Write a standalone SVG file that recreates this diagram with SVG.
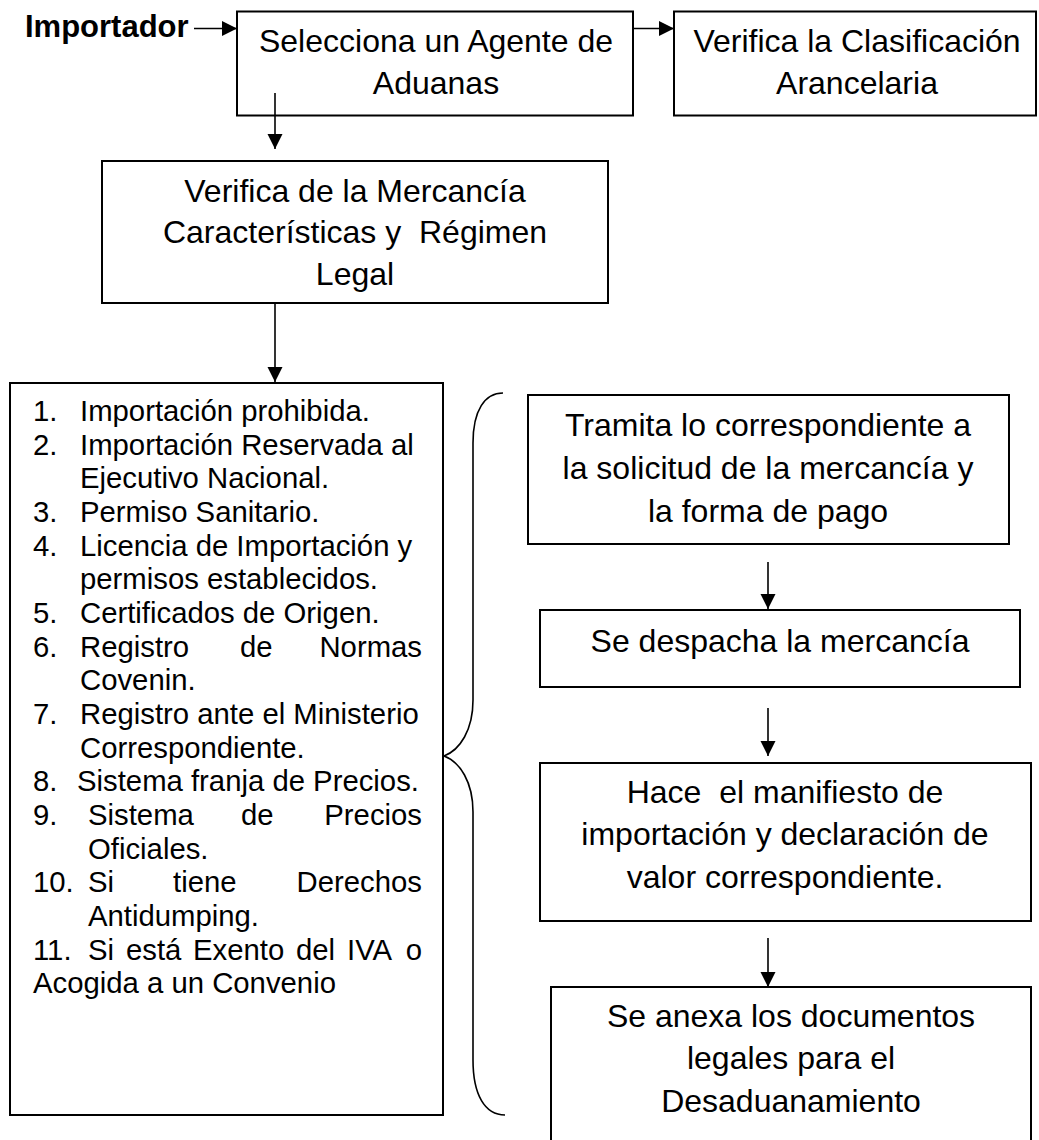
<svg xmlns="http://www.w3.org/2000/svg" width="1039" height="1140" viewBox="0 0 1039 1140">
<style>
.box{fill:#fff;stroke:#000;stroke-width:2}
.t{font-family:"Liberation Sans",Arial,sans-serif;font-size:32px;fill:#000;text-anchor:middle}
.l{font-family:"Liberation Sans",Arial,sans-serif;font-size:29.3px;fill:#000}
.e{text-anchor:end}
.c{fill:none;stroke:#000;stroke-width:1.6}
</style>
<defs>
<marker id="ah" markerUnits="userSpaceOnUse" markerWidth="16" markerHeight="16" refX="15" refY="7.5" orient="auto">
<path d="M0,0 L15,7.5 L0,15 z" fill="#000"/>
</marker>
</defs>
<rect width="1039" height="1140" fill="#fff"/>

<g id="importador">
<text x="25" y="37" style="font-family:'Liberation Sans',Arial,sans-serif;font-size:31px;font-weight:bold">Importador</text>
</g>

<g id="n1">
<rect class="box" x="237" y="11.5" width="396" height="104"/>
<text class="t" x="436" y="52">Selecciona un Agente de</text>
<text class="t" x="436" y="94">Aduanas</text>
</g>

<g id="n2">
<rect class="box" x="674" y="11.5" width="362" height="104"/>
<text class="t" x="857" y="52">Verifica la Clasificación</text>
<text class="t" x="857" y="94">Arancelaria</text>
</g>

<g id="n3">
<rect class="box" x="102" y="161" width="506" height="142"/>
<text class="t" x="355" y="202">Verifica de la Mercancía</text>
<text class="t" x="355" y="243" xml:space="preserve">Características y  Régimen</text>
<text class="t" x="355" y="285">Legal</text>
</g>

<g id="n4">
<rect class="box" x="10" y="383" width="433" height="732"/>
<text class="l" y="421"><tspan x="33">1.</tspan><tspan x="80">Importación prohibida.</tspan></text>
<text class="l" y="455"><tspan x="33">2.</tspan><tspan x="80">Importación Reservada al</tspan></text>
<text class="l" y="488"><tspan x="80">Ejecutivo Nacional.</tspan></text>
<text class="l" y="522"><tspan x="33">3.</tspan><tspan x="80">Permiso Sanitario.</tspan></text>
<text class="l" y="556"><tspan x="33">4.</tspan><tspan x="80">Licencia de Importación y</tspan></text>
<text class="l" y="589"><tspan x="80">permisos establecidos.</tspan></text>
<text class="l" y="623"><tspan x="33">5.</tspan><tspan x="80">Certificados de Origen.</tspan></text>
<text class="l" y="657"><tspan x="33">6.</tspan><tspan x="80">Registro</tspan><tspan x="240">de</tspan></text>
<text class="l e" x="422" y="657">Normas</text>
<text class="l" y="690"><tspan x="80">Covenin.</tspan></text>
<text class="l" y="724"><tspan x="33">7.</tspan><tspan x="80">Registro ante el Ministerio</tspan></text>
<text class="l" y="758"><tspan x="80">Correspondiente.</tspan></text>
<text class="l" y="791"><tspan x="33">8.</tspan><tspan x="77">Sistema franja de Precios.</tspan></text>
<text class="l" y="825"><tspan x="33">9.</tspan><tspan x="88">Sistema</tspan><tspan x="241">de</tspan></text>
<text class="l e" x="422" y="825">Precios</text>
<text class="l" y="859"><tspan x="88">Oficiales.</tspan></text>
<text class="l" y="892"><tspan x="33">10.</tspan><tspan x="88">Si</tspan><tspan x="173">tiene</tspan></text>
<text class="l e" x="422" y="892">Derechos</text>
<text class="l" y="926"><tspan x="88">Antidumping.</tspan></text>
<text class="l" y="960"><tspan x="33">11.</tspan><tspan x="88">Si</tspan><tspan x="126">está</tspan><tspan x="193">Exento</tspan><tspan x="296">del</tspan><tspan x="347">IVA</tspan></text>
<text class="l e" x="422" y="960">o</text>
<text class="l" y="993"><tspan x="33">Acogida a un Convenio</tspan></text>
</g>

<g id="n5">
<rect class="box" x="528" y="395" width="481" height="149"/>
<text class="t" x="768" y="436">Tramita lo correspondiente a</text>
<text class="t" x="768" y="479">la solicitud de la mercancía y</text>
<text class="t" x="768" y="522">la forma de pago</text>
</g>

<g id="n6">
<rect class="box" x="540" y="610" width="480" height="77"/>
<text class="t" x="780" y="652">Se despacha la mercancía</text>
</g>

<g id="n7">
<rect class="box" x="540" y="763" width="491" height="158"/>
<text class="t" x="785" y="803" xml:space="preserve">Hace  el manifiesto de</text>
<text class="t" x="785" y="845">importación y declaración de</text>
<text class="t" x="785" y="888">valor correspondiente.</text>
</g>

<g id="n8">
<rect class="box" x="551" y="987" width="480" height="170"/>
<text class="t" x="791" y="1027">Se anexa los documentos</text>
<text class="t" x="791" y="1069">legales para el</text>
<text class="t" x="791" y="1112">Desaduanamiento</text>
</g>

<g id="connectors">
<line class="c" x1="194" y1="28.5" x2="237" y2="28.5" marker-end="url(#ah)"/>
<line class="c" x1="633" y1="28.5" x2="674" y2="28.5" marker-end="url(#ah)"/>
<line class="c" x1="275" y1="93" x2="275" y2="149" marker-end="url(#ah)"/>
<line class="c" x1="275" y1="303" x2="275" y2="382" marker-end="url(#ah)"/>
<line class="c" x1="768" y1="562" x2="768" y2="609" marker-end="url(#ah)"/>
<line class="c" x1="768" y1="708" x2="768" y2="756" marker-end="url(#ah)"/>
<line class="c" x1="768" y1="938" x2="768" y2="987" marker-end="url(#ah)"/>
<path class="c" d="M503,393 C485,393 473,410 473,443 L473,700 C473,730 460,750 444,756 C460,762 473,782 473,812 L473,1060 C473,1095 485,1115 505,1115"/>
</g>
</svg>
